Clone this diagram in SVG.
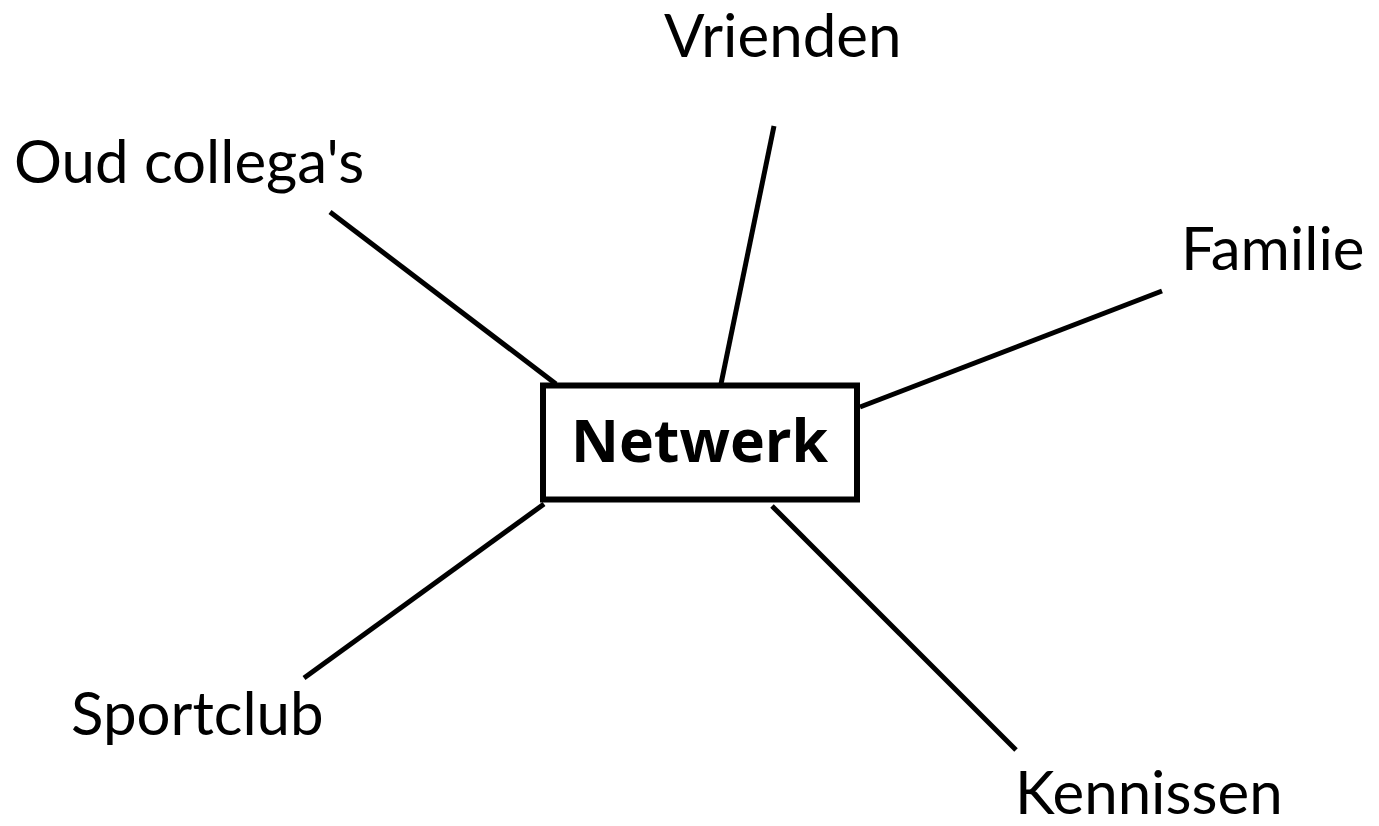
<svg xmlns="http://www.w3.org/2000/svg" width="1379" height="826" viewBox="0 0 1379 826">
<style>
.lbl{font-family:Lato,"Open Sans","Liberation Sans",sans-serif;font-size:60px;fill:#000}
.main{font-family:"Open Sans","Liberation Sans",sans-serif;font-size:59px;font-weight:bold;fill:#000}
.con{stroke:#000;stroke-width:5;fill:none;stroke-linecap:butt}
</style>
<rect width="1379" height="826" fill="#fff"/>
<g id="connectors">
<line class="con" x1="330" y1="212" x2="556" y2="384"/>
<line class="con" x1="774" y1="126" x2="721" y2="384"/>
<line class="con" x1="1162" y1="291" x2="860" y2="407"/>
<line class="con" x1="544" y1="504" x2="304" y2="678"/>
<line class="con" x1="772" y1="506" x2="1016" y2="750"/>
</g>
<g id="netwerk">
<rect x="543" y="385.5" width="314" height="114" fill="#fff" stroke="#000" stroke-width="6"/>
<text class="main" x="571" y="462">Netwerk</text>
</g>
<g id="vrienden"><text class="lbl" x="664" y="57">Vrienden</text></g>
<g id="oud-collegas"><text class="lbl" x="14" y="183">Oud collega's</text></g>
<g id="familie"><text class="lbl" x="1181" y="270">Familie</text></g>
<g id="sportclub"><text class="lbl" x="71" y="735">Sportclub</text></g>
<g id="kennissen"><text class="lbl" x="1015" y="814">Kennissen</text></g>
</svg>
